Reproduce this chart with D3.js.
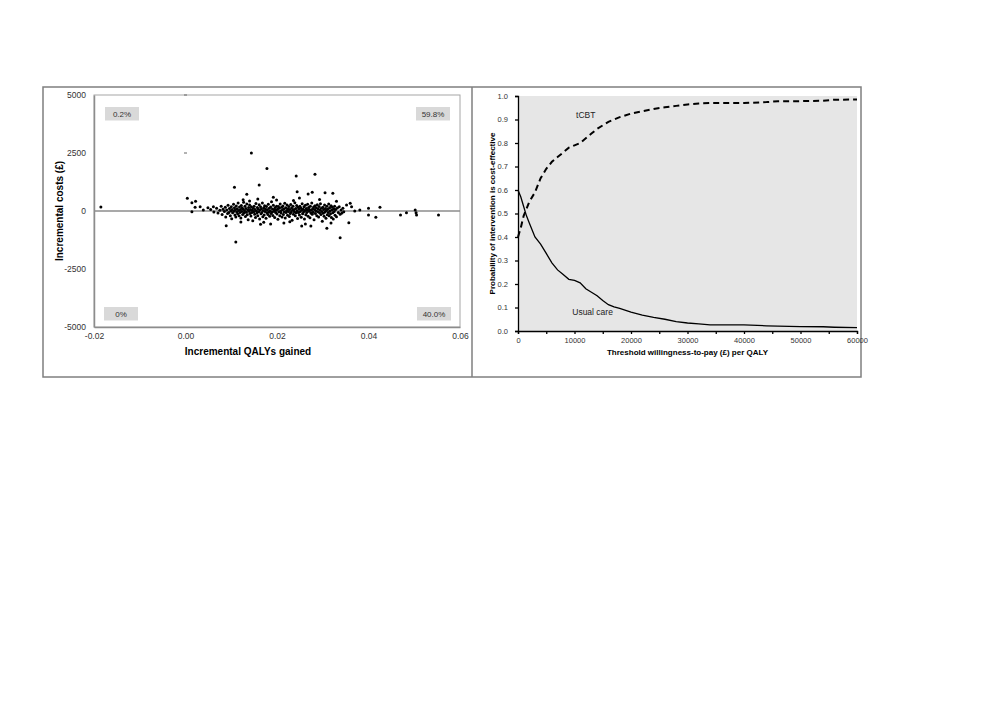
<!DOCTYPE html>
<html>
<head>
<meta charset="utf-8">
<script src="https://cdn.jsdelivr.net/npm/d3@7"></script>
<style>
  body { margin: 0; background: #fff; }
  svg { font-family: "Liberation Sans", Arial, sans-serif; }
  .tick text { fill: #333; }
</style>
</head>
<body>
<svg id="chart" width="1000" height="707"></svg>
<script>
// ---- data: cost-effectiveness plane ----
const qalyTicks = [-0.02, 0.00, 0.02, 0.04, 0.06];
const costTicks = [-5000, -2500, 0, 2500, 5000];
const quadrantLabels = ["0.2%", "59.8%", "0%", "40.0%"]; // TL, TR, BL, BR

// stray tiny marks on the zero-QALY line
const dashMarks = [[0.0, 5000], [0.0, 2500]];

// bootstrap replicates [incremental QALY, incremental cost]
const outliers = [
  [-0.0185, 170], [0.0004, 547], [0.0014, 358], [0.0022, 418], [0.0014, -30],
  [0.0021, 160], [0.0032, 185], [0.0039, 43], [0.0049, 142], [0.0061, 185],
  [0.0089, -634], [0.0164, -573], [0.0144, 2500], [0.0178, 1830], [0.0161, 1120],
  [0.0107, 1020], [0.0134, 720], [0.0192, 590], [0.0110, -1336], [0.0242, 1508],
  [0.0283, 1580], [0.0244, 832], [0.0277, 806], [0.0305, 789], [0.0322, 763],
  [0.0268, 733], [0.0338, -1150], [0.0309, -746], [0.0254, -647], [0.0274, -647],
  [0.0228, -461], [0.0357, -504], [0.0425, 159], [0.0400, 116], [0.0400, -172],
  [0.0416, -272], [0.0381, 43], [0.0370, 0], [0.0470, -172], [0.0483, -73],
  [0.0502, 43], [0.0504, -73], [0.0505, -172], [0.0553, -172], [0.0360, 332],
  [0.0352, 259], [0.0363, 185],
  [0.0126, 480], [0.0158, 520], [0.0199, 470], [0.0215, -520], [0.0236, 450],
  [0.0262, -560], [0.0293, 500], [0.0318, -520], [0.0171, -480], [0.0121, -470],
  [0.0249, 560], [0.0330, 420], [0.0186, -560], [0.0140, 430]
];
const cluster = [
  [0.0055,60],[0.0062,-40],[0.0068,120],[0.0071,-90],[0.0075,30],[0.0078,210],[0.0080,-150],[0.0082,80],
  [0.0085,-20],[0.0087,160],[0.0088,-260],[0.0090,40],[0.0092,-110],[0.0093,250],[0.0095,-60],[0.0096,110],
  [0.0098,-200],[0.0099,10],[0.0100,180],[0.0101,-330],
  [0.0102,70],[0.0103,-80],[0.0105,290],[0.0106,-10],[0.0107,140],[0.0108,-170],[0.0109,50],[0.0110,-260],
  [0.0111,220],[0.0112,-40],[0.0113,100],[0.0114,-120],[0.0115,340],[0.0116,20],[0.0117,-210],[0.0118,170],
  [0.0119,-70],[0.0120,60],[0.0121,-300],[0.0122,240],[0.0123,-20],[0.0124,130],[0.0125,-150],[0.0126,80],
  [0.0127,380],[0.0128,-90],[0.0129,10],[0.0130,200],[0.0131,-240],[0.0132,110],[0.0133,-50],[0.0134,300],
  [0.0135,-160],[0.0136,40],[0.0137,-380],[0.0138,150],[0.0139,-10],[0.0140,260],[0.0141,-110],[0.0142,70],
  [0.0143,-220],[0.0144,180],[0.0145,-60],[0.0146,30],[0.0147,-420],[0.0148,120],[0.0149,-30],
  [0.0150,210],[0.0151,-140],[0.0152,60],[0.0153,-280],[0.0154,320],[0.0155,0],[0.0156,-90],[0.0157,150],
  [0.0158,-200],[0.0159,90],[0.0160,-30],[0.0161,270],[0.0162,-340],[0.0163,40],[0.0164,180],[0.0165,-120],
  [0.0166,100],[0.0167,-60],[0.0168,350],[0.0169,-250],[0.0170,20],[0.0171,140],[0.0172,-170],[0.0173,230],
  [0.0174,-20],[0.0175,80],[0.0176,-310],[0.0177,190],[0.0178,-80],[0.0179,50],[0.0180,-150],[0.0181,290],
  [0.0182,-40],[0.0183,120],[0.0184,-230],[0.0185,10],[0.0186,170],[0.0187,-110],[0.0188,400],[0.0189,-50],
  [0.0190,90],[0.0191,-190],[0.0192,250],[0.0193,-10],[0.0194,60],[0.0195,-280],[0.0196,150],[0.0197,-70],
  [0.0198,30],[0.0199,210],
  [0.0200,-130],[0.0201,80],[0.0202,-360],[0.0203,190],[0.0204,-30],[0.0205,120],[0.0206,-210],[0.0207,300],
  [0.0208,0],[0.0209,-90],[0.0210,160],[0.0211,-260],[0.0212,50],[0.0213,220],[0.0214,-150],[0.0215,90],
  [0.0216,-40],[0.0217,330],[0.0218,-300],[0.0219,140],[0.0220,-70],[0.0221,20],[0.0222,260],[0.0223,-180],
  [0.0224,100],[0.0225,-20],[0.0226,190],[0.0227,-240],[0.0228,60],[0.0229,-110],[0.0230,280],[0.0231,-50],
  [0.0232,130],[0.0233,-400],[0.0234,30],[0.0235,210],[0.0236,-140],[0.0237,70],[0.0238,-30],[0.0239,360],
  [0.0240,-200],[0.0241,110],[0.0242,-80],[0.0243,240],[0.0244,10],[0.0245,-320],[0.0246,160],[0.0247,-60],
  [0.0248,90],[0.0249,-170],
  [0.0250,200],[0.0251,-20],[0.0252,130],[0.0253,-270],[0.0254,50],[0.0255,310],[0.0256,-120],[0.0257,80],
  [0.0258,-40],[0.0259,180],[0.0260,-350],[0.0261,20],[0.0262,250],[0.0263,-160],[0.0264,110],[0.0265,-70],
  [0.0266,40],[0.0267,290],[0.0268,-230],[0.0269,150],[0.0270,-10],[0.0271,70],[0.0272,-290],[0.0273,200],
  [0.0274,-90],[0.0275,30],[0.0276,340],[0.0277,-140],[0.0278,100],[0.0279,-50],[0.0280,170],[0.0281,-380],
  [0.0282,60],[0.0283,230],[0.0284,-110],[0.0285,10],[0.0286,140],[0.0287,-200],[0.0288,270],[0.0289,-30],
  [0.0290,90],[0.0291,-260],[0.0292,190],[0.0293,-80],[0.0294,40],[0.0295,310],[0.0296,-150],[0.0297,120],
  [0.0298,-20],[0.0299,-440],
  [0.0300,160],[0.0301,-100],[0.0302,60],[0.0303,-230],[0.0304,260],[0.0305,-40],[0.0306,110],[0.0307,-310],
  [0.0308,20],[0.0309,200],[0.0310,-160],[0.0311,80],[0.0312,-60],[0.0313,300],[0.0314,-210],[0.0315,140],
  [0.0316,0],[0.0317,-120],[0.0318,230],[0.0319,-280],[0.0320,50],[0.0321,170],[0.0322,-80],[0.0323,-350],
  [0.0324,100],[0.0325,-20],[0.0326,210],[0.0327,-180],[0.0328,70],[0.0330,-250],[0.0332,130],[0.0334,-60],
  [0.0336,180],[0.0338,-140],[0.0340,40],[0.0342,-90],[0.0344,120],[0.0346,-30]
];

// ---- data: acceptability curve ----
const wtp = [0, 500, 1000, 1500, 2000, 3000, 4000, 5000, 6000, 7000, 8000, 9000, 10000, 11000, 12000,
  13000, 14000, 15000, 16000, 17000, 18000, 20000, 22000, 24000, 26000, 28000, 30000, 32000, 34000,
  36000, 40000, 44000, 46000, 50000, 54000, 56000, 60000];
const pTCBT = [0.40, 0.44, 0.49, 0.52, 0.55, 0.59, 0.65, 0.69, 0.72, 0.74, 0.76, 0.78, 0.79, 0.80, 0.82,
  0.84, 0.86, 0.875, 0.89, 0.90, 0.91, 0.925, 0.935, 0.945, 0.952, 0.958, 0.964, 0.968, 0.97,
  0.97, 0.97, 0.974, 0.978, 0.978, 0.98, 0.984, 0.985];
const pUsual = [0.60, 0.57, 0.53, 0.49, 0.46, 0.40, 0.37, 0.33, 0.29, 0.26, 0.24, 0.22, 0.215, 0.205, 0.18,
  0.165, 0.15, 0.13, 0.112, 0.103, 0.096, 0.08, 0.068, 0.058, 0.05, 0.04, 0.034, 0.03, 0.026,
  0.026, 0.026, 0.022, 0.021, 0.019, 0.018, 0.016, 0.014];
const wtpTicks = [0, 10000, 20000, 30000, 40000, 50000, 60000];
const wtpMinor = [0, 5000, 10000, 15000, 20000, 25000, 30000, 35000, 40000, 45000, 50000, 55000, 60000];
const probTicks = [0, 0.1, 0.2, 0.3, 0.4, 0.5, 0.6, 0.7, 0.8, 0.9, 1.0];

const svg = d3.select("svg#chart");

// outer frame and divider
const frame = { left: 43, top: 87, right: 861, bottom: 377, divider: 472 };
svg.append("rect")
  .attr("x", frame.left).attr("y", frame.top)
  .attr("width", frame.right - frame.left).attr("height", frame.bottom - frame.top)
  .style("fill", "none").style("stroke", "#7f7f7f").style("stroke-width", 1.5);
svg.append("line")
  .attr("x1", frame.divider).attr("x2", frame.divider)
  .attr("y1", frame.top).attr("y2", frame.bottom)
  .style("stroke", "#7f7f7f").style("stroke-width", 1.5);

// ===== left panel: CE plane =====
const L = { left: 94, right: 460, top: 95, bottom: 327 };
const x1 = d3.scaleLinear().domain([-0.02, 0.06]).range([L.left, L.right]);
const y1 = d3.scaleLinear().domain([-5000, 5000]).range([L.bottom, L.top]);

const left = svg.append("g").attr("id", "ce-plane");

left.append("rect")
  .attr("x", L.left).attr("y", L.top)
  .attr("width", L.right - L.left).attr("height", L.bottom - L.top)
  .style("fill", "#fff").style("stroke", "#a6a6a6").style("stroke-width", 1);

// zero cost line
left.append("line")
  .attr("x1", x1(-0.02)).attr("x2", x1(0.06))
  .attr("y1", y1(0)).attr("y2", y1(0))
  .style("stroke", "#8c8c8c").style("stroke-width", 1.5);

const fmtSigned = f => d => d < 0 ? "-" + f(-d) : f(d);

const yAxis1 = left.append("g")
  .attr("transform", "translate(" + L.left + ",0)")
  .call(d3.axisLeft(y1).tickValues(costTicks).tickSize(0).tickPadding(8).tickFormat(fmtSigned(d3.format("d"))));
yAxis1.select(".domain").style("stroke", "#8c8c8c").style("stroke-width", 1.5);
yAxis1.selectAll(".tick text").style("font-size", "8.5px");

const xAxis1 = left.append("g")
  .attr("transform", "translate(0," + L.bottom + ")")
  .call(d3.axisBottom(x1).tickValues(qalyTicks).tickSize(0).tickPadding(6).tickFormat(fmtSigned(d3.format(".2f"))));
xAxis1.select(".domain").style("stroke", "#8c8c8c").style("stroke-width", 1.5);
xAxis1.selectAll(".tick text").style("font-size", "8.5px");

// quadrant boxes
const quadPos = [
  { x: L.left + 11, y: L.top + 12 },
  { x: L.right - 44, y: L.top + 12 },
  { x: L.left + 10, y: L.bottom - 20 },
  { x: L.right - 43, y: L.bottom - 20 }
];
quadrantLabels.forEach((lab, i) => {
  const p = quadPos[i];
  left.append("rect")
    .attr("x", p.x).attr("y", p.y).attr("width", 34).attr("height", 13.5)
    .style("fill", "#d9d9d9");
  left.append("text")
    .attr("x", p.x + 17).attr("y", p.y + 10)
    .attr("text-anchor", "middle")
    .style("font-size", "8px").style("fill", "#333")
    .text(lab);
});

// tiny dashes
left.selectAll("line.dash")
  .data(dashMarks)
  .enter()
  .append("line")
  .attr("class", "dash")
  .attr("x1", d => x1(d[0]) - 1.5).attr("x2", d => x1(d[0]) + 1.5)
  .attr("y1", d => y1(d[1])).attr("y2", d => y1(d[1]))
  .style("stroke", "#666").style("stroke-width", 1);

// replicates
left.selectAll("circle.rep")
  .data(cluster.concat(outliers))
  .enter()
  .append("circle")
  .attr("class", "rep")
  .attr("cx", d => x1(d[0]))
  .attr("cy", d => y1(d[1]))
  .attr("r", 1.5)
  .style("fill", "#000");

left.append("text")
  .attr("transform", "translate(63," + y1(0) + ") rotate(-90)")
  .attr("text-anchor", "middle")
  .style("font-size", "10px").style("font-weight", "bold")
  .text("Incremental costs (£)");
left.append("text")
  .attr("x", 248).attr("y", 355)
  .attr("text-anchor", "middle")
  .style("font-size", "10px").style("font-weight", "bold")
  .text("Incremental QALYs gained");

// ===== right panel: CEAC =====
const R = { left: 518, right: 857, top: 96, bottom: 331 };
const x2 = d3.scaleLinear().domain([0, 60000]).range([R.left, R.right]);
const y2 = d3.scaleLinear().domain([0, 1]).range([R.bottom, R.top]);

const right = svg.append("g").attr("id", "ceac");

right.append("rect")
  .attr("x", R.left).attr("y", R.top)
  .attr("width", R.right - R.left).attr("height", R.bottom - R.top)
  .style("fill", "#e6e6e6");

const yAxis2 = right.append("g")
  .attr("transform", "translate(" + R.left + ",0)")
  .call(d3.axisLeft(y2).tickValues(probTicks).tickSize(3).tickPadding(7).tickFormat(d3.format(".1f")));
yAxis2.selectAll("line, path").style("stroke", "#000").style("stroke-width", 1.3);
yAxis2.selectAll(".tick text").style("font-size", "7.5px");

const xAxis2minor = right.append("g")
  .attr("transform", "translate(0," + R.bottom + ")")
  .call(d3.axisBottom(x2).tickValues(wtpMinor).tickSize(3).tickFormat(""));
xAxis2minor.selectAll("line, path").style("stroke", "#000").style("stroke-width", 1.3);

const xAxis2 = right.append("g")
  .attr("transform", "translate(0," + R.bottom + ")")
  .call(d3.axisBottom(x2).tickValues(wtpTicks).tickSize(0).tickPadding(7).tickFormat(d3.format("d")));
xAxis2.select(".domain").remove();
xAxis2.selectAll(".tick text").style("font-size", "7.5px");

const line = d3.line()
  .x(d => x2(d[0]))
  .y(d => y2(d[1]));

right.append("path")
  .datum(wtp.map((w, i) => [w, pUsual[i]]))
  .attr("d", line)
  .style("fill", "none").style("stroke", "#000").style("stroke-width", 1.3);

right.append("path")
  .datum(wtp.map((w, i) => [w, pTCBT[i]]))
  .attr("d", line)
  .style("fill", "none").style("stroke", "#000").style("stroke-width", 2)
  .style("stroke-dasharray", "6,4");

right.append("text")
  .attr("x", x2(12000)).attr("y", y2(0.905))
  .attr("text-anchor", "middle")
  .style("font-size", "8.5px").style("fill", "#222")
  .text("tCBT");
right.append("text")
  .attr("x", x2(13200)).attr("y", y2(0.068))
  .attr("text-anchor", "middle")
  .style("font-size", "8.5px").style("fill", "#222")
  .text("Usual care");

right.append("text")
  .attr("transform", "translate(495," + y2(0.5) + ") rotate(-90)")
  .attr("text-anchor", "middle")
  .style("font-size", "8px").style("font-weight", "bold")
  .text("Probability of intervention is cost-effective");
right.append("text")
  .attr("x", x2(30000)).attr("y", 355)
  .attr("text-anchor", "middle")
  .style("font-size", "8px").style("font-weight", "bold")
  .text("Threshold willingness-to-pay (£) per QALY");
</script>
</body>
</html>
